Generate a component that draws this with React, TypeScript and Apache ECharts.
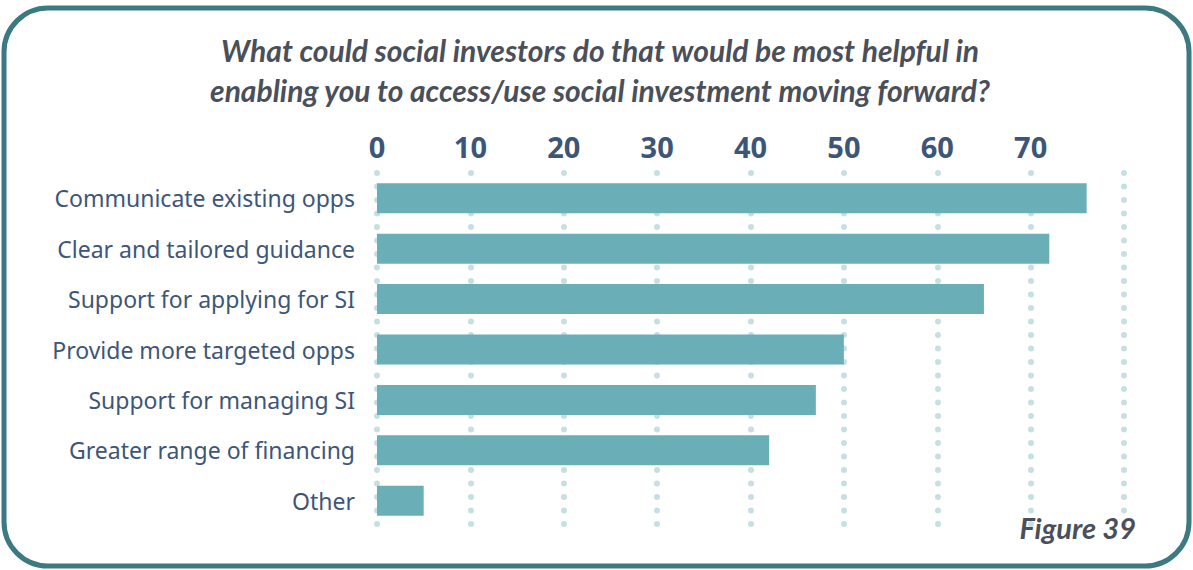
import React, { useEffect, useRef } from "react";
import * as echarts from "echarts";

const categories = [
  "Communicate existing opps",
  "Clear and tailored guidance",
  "Support for applying for SI",
  "Provide more targeted opps",
  "Support for managing SI",
  "Greater range of financing",
  "Other",
];
const values = [76, 72, 65, 50, 47, 42, 5];
const titleLines = [
  "What could social investors do that would be most helpful in",
  "enabling you to access/use social investment moving forward?",
];
const figureLabel = "Figure 39";

export default function App() {
  const ref = useRef<HTMLDivElement>(null);
  useEffect(() => {
    if (!ref.current) return;
    const chart = echarts.init(ref.current, null, { renderer: "svg" });
    const titleStyle = {
      fontSize: 30,
      fontWeight: "bold",
      fontStyle: "italic",
      fontFamily: "Lato",
      fill: "#4a4f5a",
      align: "center",
      verticalAlign: "middle",
    };
    chart.setOption({
      animation: false,
      backgroundColor: "#ffffff",
      grid: { left: 377, right: 69, top: 173, bottom: 44 },
      xAxis: {
        type: "value",
        position: "top",
        min: 0,
        max: 80,
        interval: 10,
        axisLine: { show: false },
        axisTick: { show: false },
        axisLabel: {
          margin: 12,
          fontSize: 29,
          fontWeight: "bold",
          color: "#3d5677",
          fontFamily: "Open Sans",
          formatter: (v: number) => (v >= 80 ? "" : String(v)),
        },
        splitLine: {
          show: true,
          lineStyle: { color: "#c6dfe2", width: 6, type: [0, 13.5], cap: "round" },
        },
      },
      yAxis: {
        type: "category",
        data: categories,
        inverse: true,
        axisLine: { show: false },
        axisTick: { show: false },
        axisLabel: {
          margin: 22,
          fontSize: 23,
          color: "#3d5677",
          fontFamily: "Noto Sans",
        },
      },
      series: [
        {
          type: "bar",
          data: values,
          barWidth: 30,
          itemStyle: { color: "#6aafb8" },
        },
      ],
      graphic: [
        {
          type: "rect",
          shape: { x: 4, y: 8, width: 1185, height: 558, r: 44 },
          style: { fill: "none", stroke: "#3b7a80", lineWidth: 5 },
          z: 100,
        },
        { type: "text", x: 600, y: 50, style: { ...titleStyle, text: titleLines[0] } },
        { type: "text", x: 600, y: 90, style: { ...titleStyle, text: titleLines[1] } },
        {
          type: "text",
          x: 1136,
          y: 527,
          style: { ...titleStyle, fontSize: 29, align: "right", text: figureLabel },
          z: 100,
        },
      ],
    });
    return () => chart.dispose();
  }, []);
  return (
    <div
      ref={ref}
      style={{ position: "fixed", left: 0, top: 0, width: 1193, height: 570 }}
    />
  );
}
